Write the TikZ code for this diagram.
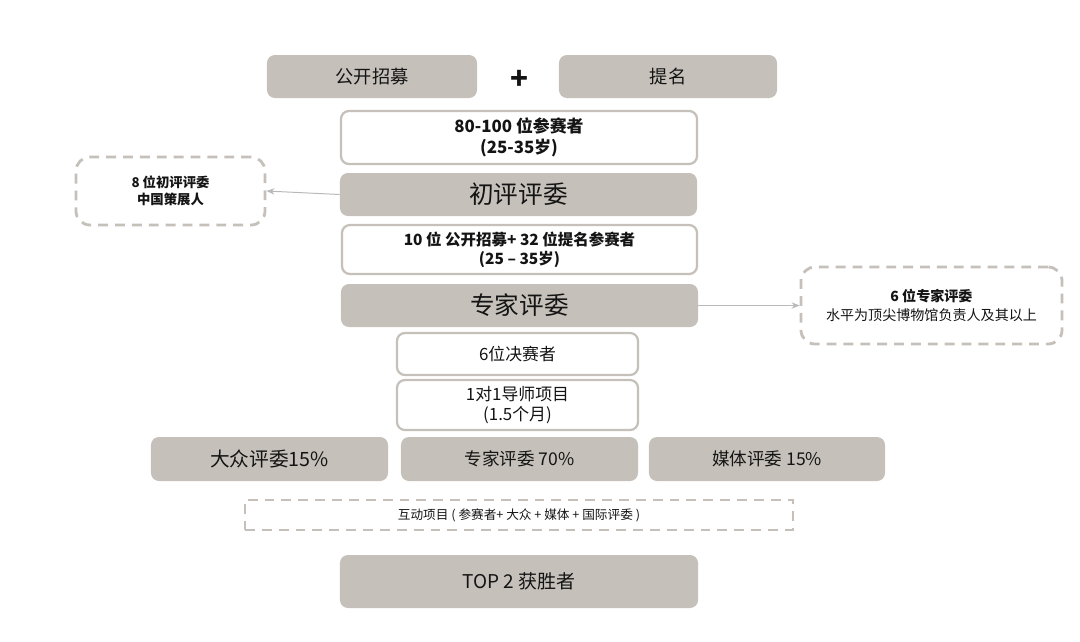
\documentclass[tikz,border=0pt]{standalone}
\usepackage{fontspec}
\setmainfont{Noto Sans CJK SC}
\usepackage{tikz}
\usetikzlibrary{
    arrows.meta,
    positioning
}
\definecolor{StageGray}{RGB}{197,193,186}
\definecolor{LinkGray}{RGB}{185,185,185}
\definecolor{InkBlack}{RGB}{20,20,20}
\tikzset{
  stage/.style    = {rounded corners=0.2cm, fill=StageGray, inner sep=0pt,
                     align=center, text=InkBlack},
  pool/.style     = {rounded corners=0.2cm, draw=StageGray, line width=1.6pt,
                     fill=white, inner sep=0pt, align=center, text=InkBlack},
  note/.style     = {rounded corners=0.35cm, draw=StageGray, line width=2pt,
                     dash pattern=on 7pt off 5pt, inner sep=0pt, align=center,
                     text=InkBlack},
  link/.style     = {-{Stealth[length=2mm,width=1.6mm]}, LinkGray, line width=0.7pt}
}

\begin{document}
\begin{tikzpicture}[x=0.025cm, y=-0.025cm]
\useasboundingbox (0,0) rectangle (1080,641);
% entry channels
\node[stage, minimum width=5.25cm, minimum height=1.075cm, font=\fontsize{13}{15}\selectfont]
    (open) at (372,76.5) {公开招募};
\node[stage, minimum width=5.45cm, minimum height=1.075cm, font=\fontsize{13}{15}\selectfont]
    (nom) at (668,76.5) {提名};
\node[font=\fontsize{21}{22}\selectfont\bfseries, text=InkBlack] (plus) at (519,80) {+};
% first round
\node[pool, minimum width=8.9cm, minimum height=1.325cm, font=\fontsize{12}{14.5}\selectfont\bfseries]
    (appl) at (519,137.5) {80-100 位参赛者\\(25-35岁)};
\node[stage, minimum width=8.925cm, minimum height=1.075cm, font=\fontsize{17.5}{20}\selectfont]
    (jury1) at (518.5,194.5) {初评评委};
\node[note, minimum width=4.725cm, minimum height=1.7cm, font=\fontsize{9.5}{12}\selectfont\bfseries]
    (jury1note) at (170.5,191) {8 位初评评委\\中国策展人};
\draw[link] (jury1.west) -- (jury1note.east);
% second round
\node[pool, minimum width=8.875cm, minimum height=1.225cm, font=\fontsize{11}{13.5}\selectfont\bfseries]
    (semi) at (519.5,249.5) {10 位 公开招募+ 32 位提名参赛者\\(25 – 35岁)};
\node[stage, minimum width=8.925cm, minimum height=1.075cm, font=\fontsize{17.5}{20}\selectfont]
    (jury2) at (519.5,305.5) {专家评委};
\node[note, minimum width=6.525cm, minimum height=1.925cm, font=\fontsize{10}{13}\selectfont]
    (jury2note) at (931.5,305.5) {\textbf{6 位专家评委}\\水平为顶尖博物馆负责人及其以上};
\draw[link] (jury2.east) -- (jury2note.west);
% finals
\node[pool, minimum width=6.025cm, minimum height=1.05cm, font=\fontsize{12}{14}\selectfont]
    (final) at (517.5,354) {6位决赛者};
\node[pool, minimum width=6.025cm, minimum height=1.25cm, font=\fontsize{12}{14}\selectfont]
    (mentor) at (517.5,405) {1对1导师项目\\(1.5个月)};
\node[stage, minimum width=5.925cm, minimum height=1.1cm, font=\fontsize{14}{16}\selectfont]
    (public) at (269.5,459) {大众评委15\%};
\node[stage, minimum width=5.925cm, minimum height=1.1cm, font=\fontsize{12.5}{15}\selectfont]
    (expert) at (519.5,459) {专家评委 70\%};
\node[stage, minimum width=5.9cm, minimum height=1.1cm, font=\fontsize{12.5}{15}\selectfont]
    (media) at (767,459) {媒体评委 15\%};
\node[note, rounded corners=0pt, minimum width=13.7cm, minimum height=0.75cm, font=\fontsize{9}{10}\selectfont]
    (inter) at (519,515) {互动项目 ( 参赛者+ 大众 + 媒体 + 国际评委 )};
\node[stage, minimum width=8.95cm, minimum height=1.325cm, font=\fontsize{13.5}{16}\selectfont]
    (top) at (519,581.5) {TOP 2 获胜者};
\end{tikzpicture}
\end{document}
